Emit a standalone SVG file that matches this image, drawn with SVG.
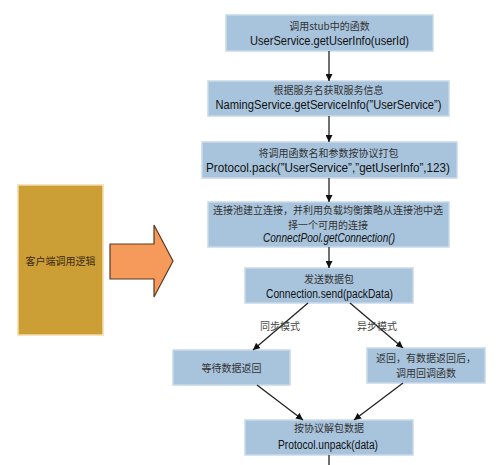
<svg xmlns="http://www.w3.org/2000/svg" width="500" height="465" viewBox="0 0 500 465">
<defs>
<marker id="ah" viewBox="0 0 10 10" refX="10" refY="5" markerWidth="7" markerHeight="7" markerUnits="userSpaceOnUse" orient="auto"><path d="M0,0 L10,5 L0,10 z" fill="#111"/></marker>
</defs>
<style>
.box{fill:#a8c4dd;stroke:#c9d9e8;stroke-width:1.5}
.cn{font-family:"Noto Sans CJK SC",sans-serif;font-size:10px;fill:#333;text-anchor:middle}
.code{font-family:"Liberation Sans",sans-serif;font-size:12px;fill:#111;text-anchor:middle}
.lbl{font-family:"Noto Sans CJK SC",sans-serif;font-size:10px;fill:#444;text-anchor:middle}
.c{stroke:#222;stroke-width:1.3;fill:none;marker-end:url(#ah)}
</style>
<rect width="500" height="465" fill="#fff"/>
<g id="client">
<rect x="18" y="185" width="85" height="150" fill="#cc9e36" stroke="#f2dcaa" stroke-width="1.5"/>
<text class="cn" x="60.5" y="264.5" style="fill:#3a2a10">客户端调用逻辑</text>
</g>
<g id="bigarrow">
<path d="M110,244 L154,244 L154,225 L173,261 L154,297 L154,279 L110,279 Z" fill="#f59a5b" stroke="#5a3a20" stroke-width="1.2"/>
</g>
<g id="n1">
<rect class="box" x="226" y="15" width="207" height="36"/>
<text class="cn" x="329.5" y="30">调用stub中的函数</text>
<text class="code" x="329.5" y="45" textLength="159" lengthAdjust="spacingAndGlyphs">UserService.getUserInfo(userId)</text>
</g>
<g id="n2">
<rect class="box" x="208" y="81" width="241" height="35"/>
<text class="cn" x="328.5" y="94">根据服务名获取服务信息</text>
<text class="code" x="328.5" y="109" textLength="226" lengthAdjust="spacingAndGlyphs">NamingService.getServiceInfo(”UserService”)</text>
</g>
<g id="n3">
<rect class="box" x="202" y="142" width="255" height="36"/>
<text class="cn" x="328.5" y="156.5">将调用函数名和参数按协议打包</text>
<text class="code" x="328" y="172" textLength="244" lengthAdjust="spacingAndGlyphs">Protocol.pack(”UserService”,”getUserInfo”,123)</text>
</g>
<g id="n4">
<rect class="box" x="208" y="202" width="241" height="45"/>
<text class="cn" x="328" y="214" font-size="9.5">连接池建立连接，并利用负载均衡策略从连接池中选</text>
<text class="cn" x="328" y="228.5" font-size="9.5">择一个可用的连接</text>
<text class="code" x="329" y="242" textLength="132" lengthAdjust="spacingAndGlyphs" font-style="italic">ConnectPool.getConnection()</text>
</g>
<g id="n5">
<rect class="box" x="245" y="268" width="168" height="35"/>
<text class="cn" x="329" y="282.5">发送数据包</text>
<text class="code" x="329.5" y="297.5" textLength="127" lengthAdjust="spacingAndGlyphs">Connection.send(packData)</text>
</g>
<g id="n6">
<rect class="box" x="173" y="350" width="117" height="35"/>
<text class="cn" x="231.5" y="371.5">等待数据返回</text>
</g>
<g id="n7">
<rect class="box" x="367" y="348" width="118" height="35"/>
<text class="cn" x="426" y="362" font-size="9.5">返回，有数据返回后，</text>
<text class="cn" x="426" y="377" font-size="9.5">调用回调函数</text>
</g>
<g id="n8">
<rect class="box" x="245" y="420" width="168" height="35"/>
<text class="cn" x="329" y="431.5">按协议解包数据</text>
<text class="code" x="328" y="448.5" textLength="100" lengthAdjust="spacingAndGlyphs">Protocol.unpack(data)</text>
</g>
<g id="connectors">
<line class="c" x1="329" y1="51" x2="329" y2="81"/>
<line class="c" x1="329" y1="116" x2="329" y2="142"/>
<line class="c" x1="329" y1="178" x2="329" y2="202"/>
<line class="c" x1="329" y1="247" x2="329" y2="268"/>
<line class="c" x1="308" y1="303" x2="253" y2="350"/>
<line class="c" x1="350" y1="303" x2="403" y2="348"/>
<line class="c" x1="257" y1="385" x2="303" y2="420"/>
<line class="c" x1="403" y1="383" x2="354" y2="420"/>
<line x1="329" y1="455" x2="329" y2="465" stroke="#222" stroke-width="1.3"/>
<text class="lbl" x="280" y="329.5">同步模式</text>
<text class="lbl" x="377" y="329.5">异步模式</text>
</g>
</svg>
